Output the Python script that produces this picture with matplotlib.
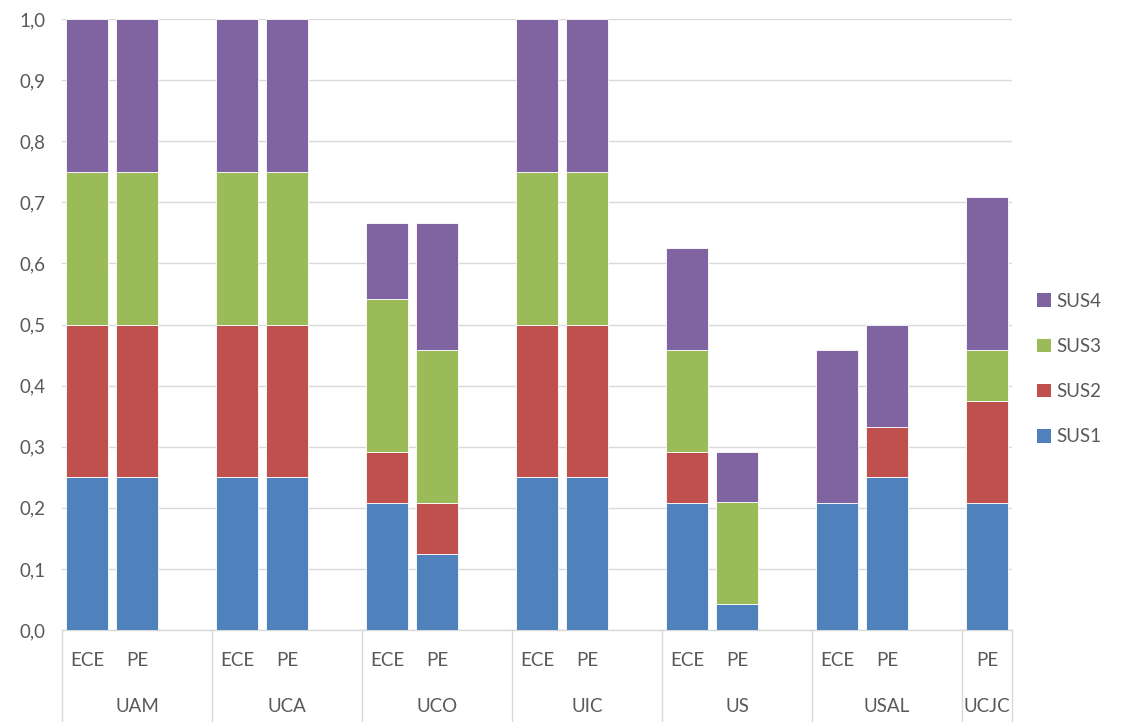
import matplotlib
matplotlib.use("Agg")
import matplotlib.pyplot as plt
from matplotlib.patches import Patch

groups = ["UAM", "UCA", "UCO", "UIC", "US", "USAL", "UCJC"]
subgroups = [["ECE", "PE"], ["ECE", "PE"], ["ECE", "PE"], ["ECE", "PE"],
             ["ECE", "PE"], ["ECE", "PE"], ["PE"]]
series_names = ["SUS1", "SUS2", "SUS3", "SUS4"]
sus1 = [0.25, 0.25, 0.25, 0.25, 0.208, 0.125, 0.25, 0.25, 0.208, 0.042, 0.208, 0.25, 0.208]
sus2 = [0.25, 0.25, 0.25, 0.25, 0.083, 0.083, 0.25, 0.25, 0.083, 0.0, 0.0, 0.083, 0.167]
sus3 = [0.25, 0.25, 0.25, 0.25, 0.25, 0.25, 0.25, 0.25, 0.167, 0.167, 0.0, 0.0, 0.083]
sus4 = [0.25, 0.25, 0.25, 0.25, 0.125, 0.208, 0.25, 0.25, 0.167, 0.083, 0.25, 0.167, 0.25]
yticks = [0.0, 0.1, 0.2, 0.3, 0.4, 0.5, 0.6, 0.7, 0.8, 0.9, 1.0]

colors = ["#4F81BD", "#C0504D", "#9BBB59", "#8064A2"]
txtc = "#595959"
font = "Lato"

W, H = 1129, 722
fig = plt.figure(figsize=(W / 100, H / 100), dpi=100)
x0, x1, ytop, ybot = 62, 1012, 19, 630
ax = fig.add_axes([x0 / W, 1 - ybot / H, (x1 - x0) / W, (ybot - ytop) / H])

# positions: each group gets its subgroups plus a blank slot (except the last)
positions, sublabels, bounds, gcenters = [], [], [0], []
slot = 0
for gi, (g, subs) in enumerate(zip(groups, subgroups)):
    start = slot
    for s in subs:
        positions.append(slot + 0.5)
        sublabels.append(s)
        slot += 1
    if gi < len(groups) - 1:
        slot += 1
    bounds.append(slot)
    gcenters.append((start + slot) / 2)
nslots = slot

bottom = [0.0] * len(positions)
for name, vals, c in zip(series_names, [sus1, sus2, sus3, sus4], colors):
    ax.bar(positions, vals, width=0.84, bottom=bottom, color=c,
           edgecolor="white", linewidth=0.6, zorder=3, label=name)
    bottom = [b + v for b, v in zip(bottom, vals)]

ax.set_xlim(0, nslots)
ax.set_ylim(0, 1.0)
ax.set_yticks(yticks)
ax.set_yticklabels([f"{t:.1f}".replace(".", ",") for t in yticks],
                   fontsize=13.5, color=txtc, family=font)
ax.tick_params(axis="y", length=0, pad=12)
ax.set_xticks([])
ax.grid(axis="y", color="#D9D9D9", linewidth=1, zorder=0)
for sp in ["top", "right", "left"]:
    ax.spines[sp].set_visible(False)
ax.spines["bottom"].set_color("#D9D9D9")
ax.spines["bottom"].set_linewidth(1)

# multi-level category labels
trans = ax.get_xaxis_transform()
for p, s in zip(positions, sublabels):
    ax.text(p, -30 / (ybot - ytop), s, transform=trans, ha="center", va="center",
            fontsize=13.5, color=txtc, family=font, clip_on=False)
for c, g in zip(gcenters, groups):
    ax.text(c, -76 / (ybot - ytop), g, transform=trans, ha="center", va="center",
            fontsize=13.5, color=txtc, family=font, clip_on=False)
for b in bounds:
    ax.plot([b, b], [0, -92 / (ybot - ytop)], transform=trans, color="#D9D9D9",
            linewidth=1, clip_on=False)

handles = [Patch(facecolor=c, label=n) for c, n in zip(colors, series_names)][::-1]
fig.legend(handles=handles, loc="upper left",
           bbox_to_anchor=(1020 / W, 1 - 276 / H), frameon=False,
           handlelength=0.75, handleheight=0.75, handletextpad=0.3,
           labelspacing=1.5, prop={"family": font, "size": 13.5},
           labelcolor=txtc)

fig.savefig("out.png", dpi=100)
